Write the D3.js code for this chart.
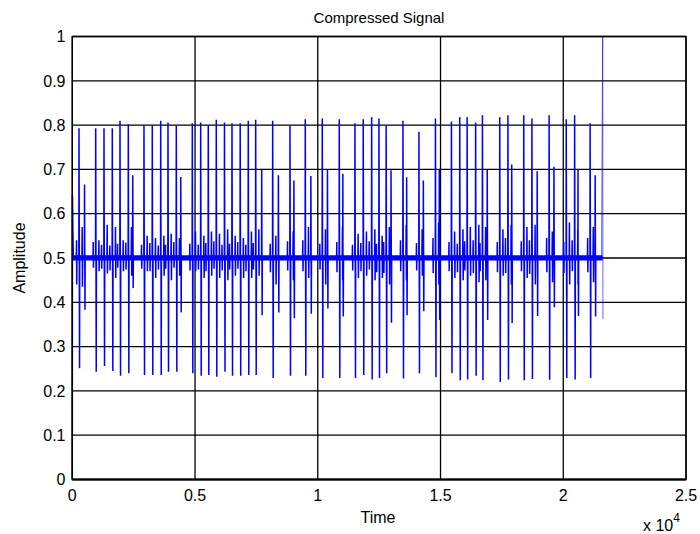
<!DOCTYPE html>
<html>
<head>
<meta charset="utf-8">
<script src="https://cdn.jsdelivr.net/npm/d3@7"></script>
<style>
  body { margin: 0; background: #fff; }
  text { font-family: "Liberation Sans", Arial, Helvetica, sans-serif; fill: #000; }
</style>
</head>
<body>
<svg id="chart" width="700" height="534"></svg>
<script>
// ---- axis ticks ----
const xTicks = [0, 5000, 10000, 15000, 20000, 25000];
const xTickLabels = ["0", "0.5", "1", "1.5", "2", "2.5"];
const yTicks = [0, 0.1, 0.2, 0.3, 0.4, 0.5, 0.6, 0.7, 0.8, 0.9, 1];
const yTickLabels = ["0", "0.1", "0.2", "0.3", "0.4", "0.5", "0.6", "0.7", "0.8", "0.9", "1"];

// ---- main pulses (sample index, peak, trough) ----
const spikeTime = [273, 953, 1291, 1629, 1943, 2281, 2920, 3258, 3601, 3898, 4236, 4888,
  5230, 5539, 5865, 6199, 6505, 6839, 7168, 7470, 8162, 8867, 9490, 10183, 10875, 11514,
  11852, 12194, 12492, 12785, 13470, 14121, 14793, 15445, 15783, 16084, 16430, 16707,
  17412, 17746, 18390, 18723, 19424, 20121, 20463, 21094];
const spikeHigh = [0.793, 0.793, 0.793, 0.793, 0.810, 0.802, 0.800, 0.800, 0.810, 0.806,
  0.799, 0.804, 0.806, 0.800, 0.812, 0.806, 0.804, 0.804, 0.810, 0.812, 0.810, 0.800,
  0.813, 0.815, 0.813, 0.804, 0.813, 0.818, 0.815, 0.799, 0.810, 0.785, 0.815, 0.808,
  0.818, 0.818, 0.806, 0.822, 0.818, 0.822, 0.822, 0.815, 0.822, 0.813, 0.822, 0.804];
const spikeLow = [0.251, 0.243, 0.256, 0.245, 0.234, 0.240, 0.236, 0.236, 0.236, 0.243,
  0.243, 0.240, 0.234, 0.236, 0.232, 0.243, 0.234, 0.234, 0.236, 0.236, 0.229, 0.234,
  0.234, 0.229, 0.229, 0.229, 0.236, 0.226, 0.229, 0.240, 0.228, 0.240, 0.231, 0.240,
  0.224, 0.226, 0.234, 0.224, 0.220, 0.226, 0.224, 0.227, 0.225, 0.229, 0.226, 0.229];

// small oscillations just before and after each pulse
const preHigh = [0.540, 0.536, 0.530, 0.528, 0.532, 0.535, 0.530, 0.534, 0.528, 0.530,
  0.536, 0.532, 0.530, 0.534, 0.538, 0.530, 0.532, 0.536, 0.530, 0.534, 0.532, 0.538,
  0.540, 0.532, 0.536, 0.530, 0.534, 0.538, 0.532, 0.536, 0.540, 0.534, 0.545, 0.536,
  0.532, 0.538, 0.540, 0.534, 0.536, 0.545, 0.538, 0.540, 0.545, 0.536, 0.540, 0.545];
const preLow = [0.440, 0.478, 0.476, 0.472, 0.478, 0.474, 0.476, 0.470, 0.474, 0.476,
  0.478, 0.472, 0.474, 0.470, 0.476, 0.472, 0.474, 0.476, 0.470, 0.474, 0.468, 0.472,
  0.470, 0.474, 0.468, 0.472, 0.470, 0.474, 0.468, 0.466, 0.470, 0.472, 0.466, 0.470,
  0.468, 0.472, 0.466, 0.470, 0.468, 0.466, 0.470, 0.464, 0.468, 0.466, 0.470, 0.468];
const postHigh = [0.570, 0.540, 0.575, 0.570, 0.540, 0.570, 0.550, 0.545, 0.550, 0.555,
  0.545, 0.560, 0.550, 0.560, 0.555, 0.565, 0.550, 0.545, 0.560, 0.565, 0.550, 0.560,
  0.570, 0.565, 0.570, 0.555, 0.560, 0.565, 0.550, 0.570, 0.575, 0.565, 0.580, 0.560,
  0.565, 0.570, 0.575, 0.570, 0.565, 0.575, 0.570, 0.575, 0.560, 0.580, 0.565, 0.570];
const postLow = [0.435, 0.470, 0.465, 0.455, 0.470, 0.460, 0.470, 0.455, 0.460, 0.450,
  0.460, 0.470, 0.455, 0.460, 0.455, 0.450, 0.460, 0.455, 0.455, 0.460, 0.440, 0.450,
  0.455, 0.440, 0.450, 0.455, 0.460, 0.450, 0.455, 0.440, 0.450, 0.460, 0.440, 0.455,
  0.450, 0.460, 0.445, 0.450, 0.460, 0.440, 0.455, 0.440, 0.445, 0.440, 0.440, 0.445];

// ---- secondary pulses (sample index, peak, trough) ----
const echoTime = [498, 2462, 4418, 7715, 8395, 9027, 9718, 10394, 11021, 12984, 13620,
  14300, 14950, 16903, 17900, 18938, 19620, 20602, 21300];
const echoHigh = [0.666, 0.687, 0.683, 0.700, 0.687, 0.675, 0.685, 0.700, 0.690, 0.698,
  0.682, 0.675, 0.700, 0.700, 0.711, 0.696, 0.706, 0.700, 0.687];
const echoLow = [0.383, 0.432, 0.377, 0.371, 0.377, 0.364, 0.374, 0.386, 0.368, 0.354,
  0.371, 0.380, 0.360, 0.360, 0.353, 0.369, 0.389, 0.369, 0.368];

// ---- start transient and final sample burst ----
const onsetTime = [0, 6, 40];
const onsetValue = [0, 0.642, 0.5];
const tailTime = [21560, 21606, 21616];
const tailValue = [0.5, 1.0, 0.362];

// ---- low-level noise floor around the mid level ----
const floorTime = [0, 21600];
const floorLow = [0.4945, 0.4945];
const floorHigh = [0.5060, 0.5060];

// ---- layout ----
const svg = d3.select("#chart");
const x = d3.scaleLinear().domain([0, 25000]).range([72.3, 686]);
const y = d3.scaleLinear().domain([0, 1]).range([479.5, 36.5]);
const blue = "#0000ff";

// grid
const grid = svg.append("g");
grid.selectAll("line.gx").data(xTicks).join("line")
  .attr("x1", d => x(d)).attr("x2", d => x(d))
  .attr("y1", y(0)).attr("y2", y(1))
  .attr("stroke", "#000").attr("stroke-width", 1.3);
grid.selectAll("line.gy").data(yTicks).join("line")
  .attr("x1", x(0)).attr("x2", x(25000))
  .attr("y1", d => y(d)).attr("y2", d => y(d))
  .attr("stroke", "#000").attr("stroke-width", 1.3);

// build the signal polyline
const pts = [];
onsetTime.forEach((t, i) => pts.push([t, onsetValue[i]]));
spikeTime.forEach((t, i) => {
  pts.push([t - 110, 0.5], [t - 100, preHigh[i]], [t - 92, preLow[i]], [t - 84, 0.5]);
  pts.push([t - 6, 0.5], [t, spikeHigh[i]], [t + 22, spikeLow[i]], [t + 30, 0.5]);
  pts.push([t + 120, 0.5], [t + 130, postHigh[i]], [t + 140, postLow[i]], [t + 150, 0.5]);
});
echoTime.forEach((t, i) => {
  pts.push([t - 6, 0.5], [t, echoHigh[i]], [t + 18, echoLow[i]], [t + 26, 0.5]);
});
pts.sort((a, b) => a[0] - b[0]);
pts.push([tailTime[0], tailValue[0]]);

// noise floor band
const band = floorTime.map((t, i) => ({ t, lo: floorLow[i], hi: floorHigh[i] }));
svg.append("path")
  .datum(band)
  .attr("fill", blue)
  .attr("d", d3.area().x(d => x(d.t)).y0(d => y(d.lo)).y1(d => y(d.hi)));

svg.append("path")
  .datum(pts)
  .attr("fill", "none")
  .attr("stroke", blue)
  .attr("stroke-width", 1.5)
  .attr("stroke-linejoin", "miter")
  .attr("d", d3.line().x(d => x(d[0])).y(d => y(d[1])));

// final sample burst, drawn thinner
svg.append("path")
  .datum(tailTime.map((t, i) => [t, tailValue[i]]))
  .attr("fill", "none")
  .attr("stroke", blue)
  .attr("stroke-opacity", 0.6)
  .attr("stroke-width", 1)
  .attr("d", d3.line().x(d => x(d[0])).y(d => y(d[1])));

// plot frame
svg.append("rect")
  .attr("x", x(0)).attr("y", y(1))
  .attr("width", x(25000) - x(0)).attr("height", y(0) - y(1))
  .attr("fill", "none").attr("stroke", "#000").attr("stroke-width", 1.4);
svg.append("line")
  .attr("x1", x(0)).attr("x2", x(25000)).attr("y1", y(0)).attr("y2", y(0))
  .attr("stroke", "#000").attr("stroke-width", 2);

// tick labels
svg.append("g").selectAll("text").data(xTicks).join("text")
  .attr("x", d => x(d)).attr("y", 500.5)
  .attr("text-anchor", "middle").attr("font-size", 16)
  .text((d, i) => xTickLabels[i]);
svg.append("g").selectAll("text").data(yTicks).join("text")
  .attr("x", 65.5).attr("y", d => y(d)).attr("dy", "0.36em")
  .attr("text-anchor", "end").attr("font-size", 16)
  .text((d, i) => yTickLabels[i]);

// exponent
const expo = svg.append("text").attr("x", 643).attr("y", 530.5).attr("font-size", 16);
expo.append("tspan").text("x 10");
expo.append("tspan").attr("dy", -9).attr("font-size", 12).text("4");

// titles
svg.append("text").attr("x", 379).attr("y", 22.5)
  .attr("text-anchor", "middle").attr("font-size", 15).text("Compressed Signal");
svg.append("text").attr("x", 378).attr("y", 523)
  .attr("text-anchor", "middle").attr("font-size", 16).text("Time");
svg.append("text")
  .attr("transform", "translate(25,258) rotate(-90)")
  .attr("text-anchor", "middle").attr("font-size", 16).text("Amplitude");
</script>
</body>
</html>
